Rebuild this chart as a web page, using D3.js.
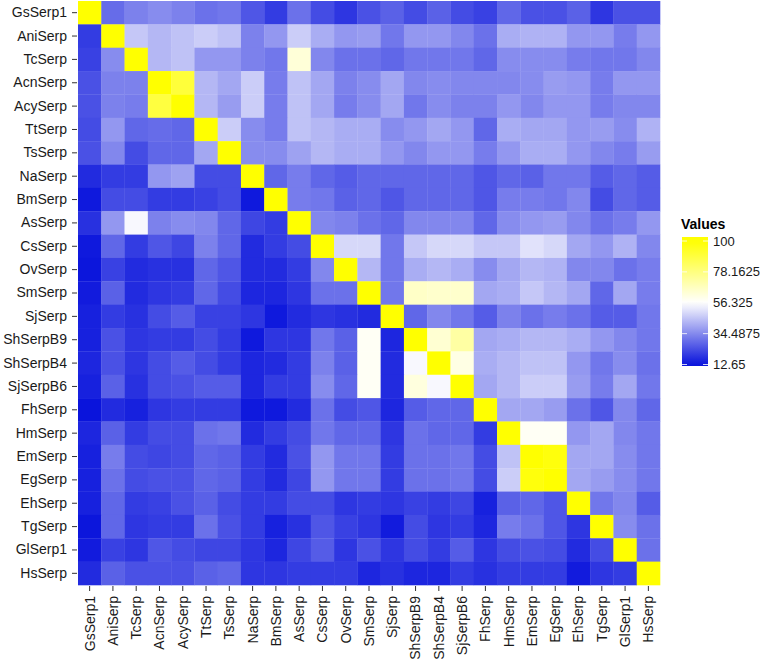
<!DOCTYPE html>
<html>
<head>
<meta charset="utf-8">
<script src="https://cdn.jsdelivr.net/npm/d3@7"></script>
<style>
  html, body { margin: 0; padding: 0; background: #ffffff; }
  svg { display: block; }
  text { font-family: "Liberation Sans", Arial, Helvetica, sans-serif; }
</style>
</head>
<body>
<svg id="chart" width="768" height="662"></svg>
<script>
// ---- data ----
const categories = ["GsSerp1","AniSerp","TcSerp","AcnSerp","AcySerp","TtSerp","TsSerp","NaSerp","BmSerp","AsSerp",
  "CsSerp","OvSerp","SmSerp","SjSerp","ShSerpB9","ShSerpB4","SjSerpB6","FhSerp","HmSerp","EmSerp",
  "EgSerp","EhSerp","TgSerp","GlSerp1","HsSerp"];

// rows (top to bottom) follow categories; columns (left to right) follow categories
const values = [
  [100,29,33,35,33, 30,31,25,20,30, 23,19,24,27,23, 27,23,21,28,24, 24,27,19,24,24],
  [20,100,46,43,45, 47,45,33,37,47, 41,37,38,31,37, 37,34,30,41,42, 42,37,37,32,37],
  [21,35,100,43,45, 37,37,33,31,63, 34,30,30,28,31, 31,31,28,35,35, 35,32,31,31,34],
  [24,33,33,100,90, 43,40,47,32,45, 40,33,35,40,34, 35,34,34,34,35, 38,37,32,37,37],
  [24,33,32,89,100, 43,38,47,32,45, 40,32,35,40,31, 35,33,33,37,34, 37,37,32,34,34],
  [23,37,28,29,28, 100,47,35,32,45, 43,41,41,35,37, 40,37,28,41,40, 40,37,38,35,42],
  [24,34,23,28,28, 40,100,35,35,39, 43,41,41,37,34, 37,37,32,37,41, 41,37,34,32,38],
  [17,20,20,37,39, 23,23,100,28,32, 28,26,28,28,28, 28,28,25,28,27, 31,31,26,28,26],
  [13.5,23,23,20,20, 21,23,13.5,100,32, 31,27,28,25,28, 28,28,25,32,32, 31,34,23,28,26],
  [18,37,55,33,35, 34,28,22,20,100, 34,33,30,28,34, 34,34,28,35,37, 38,34,30,32,37],
  [13.5,28,20,25,22, 33,28,17,20,23, 100,49,49,31,46, 49,49,46,46,51, 49,40,37,42,34],
  [13,21,17,18,18, 28,25,17,17,20, 34,100,43,31,41, 43,41,35,40,43, 42,34,34,30,32],
  [14,27,17,19,20, 28,23,16,16,19, 30,30,100,31,66, 65,65,40,41,46, 43,40,28,40,32],
  [15,20,18,23,26, 21,21,19,13.5,17, 19,18,17,100,28, 34,31,26,33,30, 32,30,26,26,31],
  [15,24,19,20,20, 23,20,13.5,19,19, 31,27,58,16,100, 64,72,40,41,43, 43,41,37,34,31],
  [16,24,19,23,26, 23,20,16,17,20, 33,27,58,17,55, 100,61,41,43,45, 45,37,31,35,30],
  [15,27,18,23,24, 26,26,16,20,20, 35,28,58,17,62, 55,100,40,43,47, 47,38,32,40,31],
  [12.7,17,15,19,20, 20,20,13.5,13.5,17, 30,23,25,16,26, 28,28,100,40,40, 38,30,25,34,28],
  [16,27,20,23,23, 30,31,17,20,23, 31,28,28,19,30, 28,28,20,100,58, 58,37,40,34,31],
  [15,32,23,22,23, 28,27,20,17,24, 37,31,31,20,30, 30,31,23,45,100, 98,40,40,35,31],
  [15,30,23,24,24, 28,27,20,17,22, 37,31,31,20,30, 30,31,23,47,98, 100,40,38,35,31],
  [15,28,20,21,24, 27,23,20,20,23, 23,19,20,19,21, 20,22,15,27,28, 25,100,31,34,26],
  [13,28,19,20,20, 30,24,20,15,18, 25,21,19,14,23, 19,20,16,32,30, 25,19,100,35,30],
  [14,21,19,25,23, 22,22,19,16,22, 26,19,24,19,23, 20,26,19,23,24, 23,17,23,100,30],
  [17,27,24,24,24, 27,28,19,19,20, 20,20,16,18,16, 16,20,18,20,20, 20,14,19,20,100]
];

const legendTicks = [12.65, 34.4875, 56.325, 78.1625, 100];
const legendTickLabels = ["12.65", "34.4875", "56.325", "78.1625", "100"];
const legendTitle = "Values";

// ---- drawing ----
const svg = d3.select("#chart");

const x = d3.scaleBand().domain(categories).range([78, 660]).padding(0);
const y = d3.scaleBand().domain(categories).range([1, 585]).padding(0);

const color = d3.scaleLinear()
  .domain([12.65, 56.325, 100])
  .range(["#0a14dc", "#ffffff", "#ffff00"])
  .interpolate(d3.interpolateRgb)
  .clamp(true);

const cells = [];
values.forEach((row, i) => row.forEach((v, j) => cells.push({ r: categories[i], c: categories[j], v })));

svg.append("g").selectAll("rect")
  .data(cells)
  .join("rect")
  .attr("x", d => x(d.c))
  .attr("y", d => y(d.r))
  .attr("width", x.bandwidth() + 0.3)
  .attr("height", y.bandwidth() + 0.3)
  .attr("fill", d => color(d.v));

// left axis
const gy = svg.append("g")
  .attr("transform", "translate(77,0)")
  .call(d3.axisLeft(y).tickSize(5).tickPadding(5));
gy.select(".domain").remove();
gy.selectAll(".tick line").attr("stroke", "#333333");
gy.selectAll(".tick text")
  .attr("fill", "#1a1a1a")
  .style("font-size", "14px")
  .style("font-family", "'Liberation Sans', Arial, sans-serif");

// bottom axis
const gx = svg.append("g")
  .attr("transform", "translate(0,586)")
  .call(d3.axisBottom(x).tickSize(5).tickPadding(5));
gx.select(".domain").remove();
gx.selectAll(".tick line").attr("stroke", "#333333");
gx.selectAll(".tick text")
  .attr("fill", "#1a1a1a")
  .style("font-size", "14px")
  .style("font-family", "'Liberation Sans', Arial, sans-serif")
  .attr("transform", "rotate(-90)")
  .attr("text-anchor", "end")
  .attr("x", -10)
  .attr("y", 0)
  .attr("dy", "0.35em");

// legend
const legY = d3.scaleLinear().domain([12.65, 100]).range([364.5, 241]);
const barX = 682, barW = 26, barTop = 237, barBot = 366;

const defs = svg.append("defs");
const grad = defs.append("linearGradient")
  .attr("id", "legendGrad")
  .attr("x1", 0).attr("y1", 1).attr("x2", 0).attr("y2", 0);
const nStops = 20;
d3.range(nStops + 1).forEach(k => {
  const yy = barBot - (barBot - barTop) * k / nStops;
  grad.append("stop")
    .attr("offset", (k / nStops))
    .attr("stop-color", color(legY.invert(yy)));
});

svg.append("text")
  .attr("x", 681)
  .attr("y", 229)
  .style("font-size", "14px")
  .style("font-weight", "bold")
  .attr("fill", "#000")
  .text(legendTitle);

svg.append("rect")
  .attr("x", barX).attr("y", barTop)
  .attr("width", barW).attr("height", barBot - barTop)
  .attr("fill", "url(#legendGrad)");

const lt = svg.append("g");
legendTicks.forEach((t, i) => {
  const yy = legY(t);
  lt.append("line").attr("x1", barX).attr("x2", barX + 5).attr("y1", yy).attr("y2", yy)
    .attr("stroke", "#ffffff").attr("stroke-width", 1).attr("opacity", 0.8);
  lt.append("line").attr("x1", barX + barW - 5).attr("x2", barX + barW).attr("y1", yy).attr("y2", yy)
    .attr("stroke", "#ffffff").attr("stroke-width", 1).attr("opacity", 0.8);
  lt.append("text")
    .attr("x", 713)
    .attr("y", yy)
    .attr("dy", "0.35em")
    .style("font-size", "13px")
    .attr("fill", "#1a1a1a")
    .text(legendTickLabels[i]);
});
</script>
</body>
</html>
